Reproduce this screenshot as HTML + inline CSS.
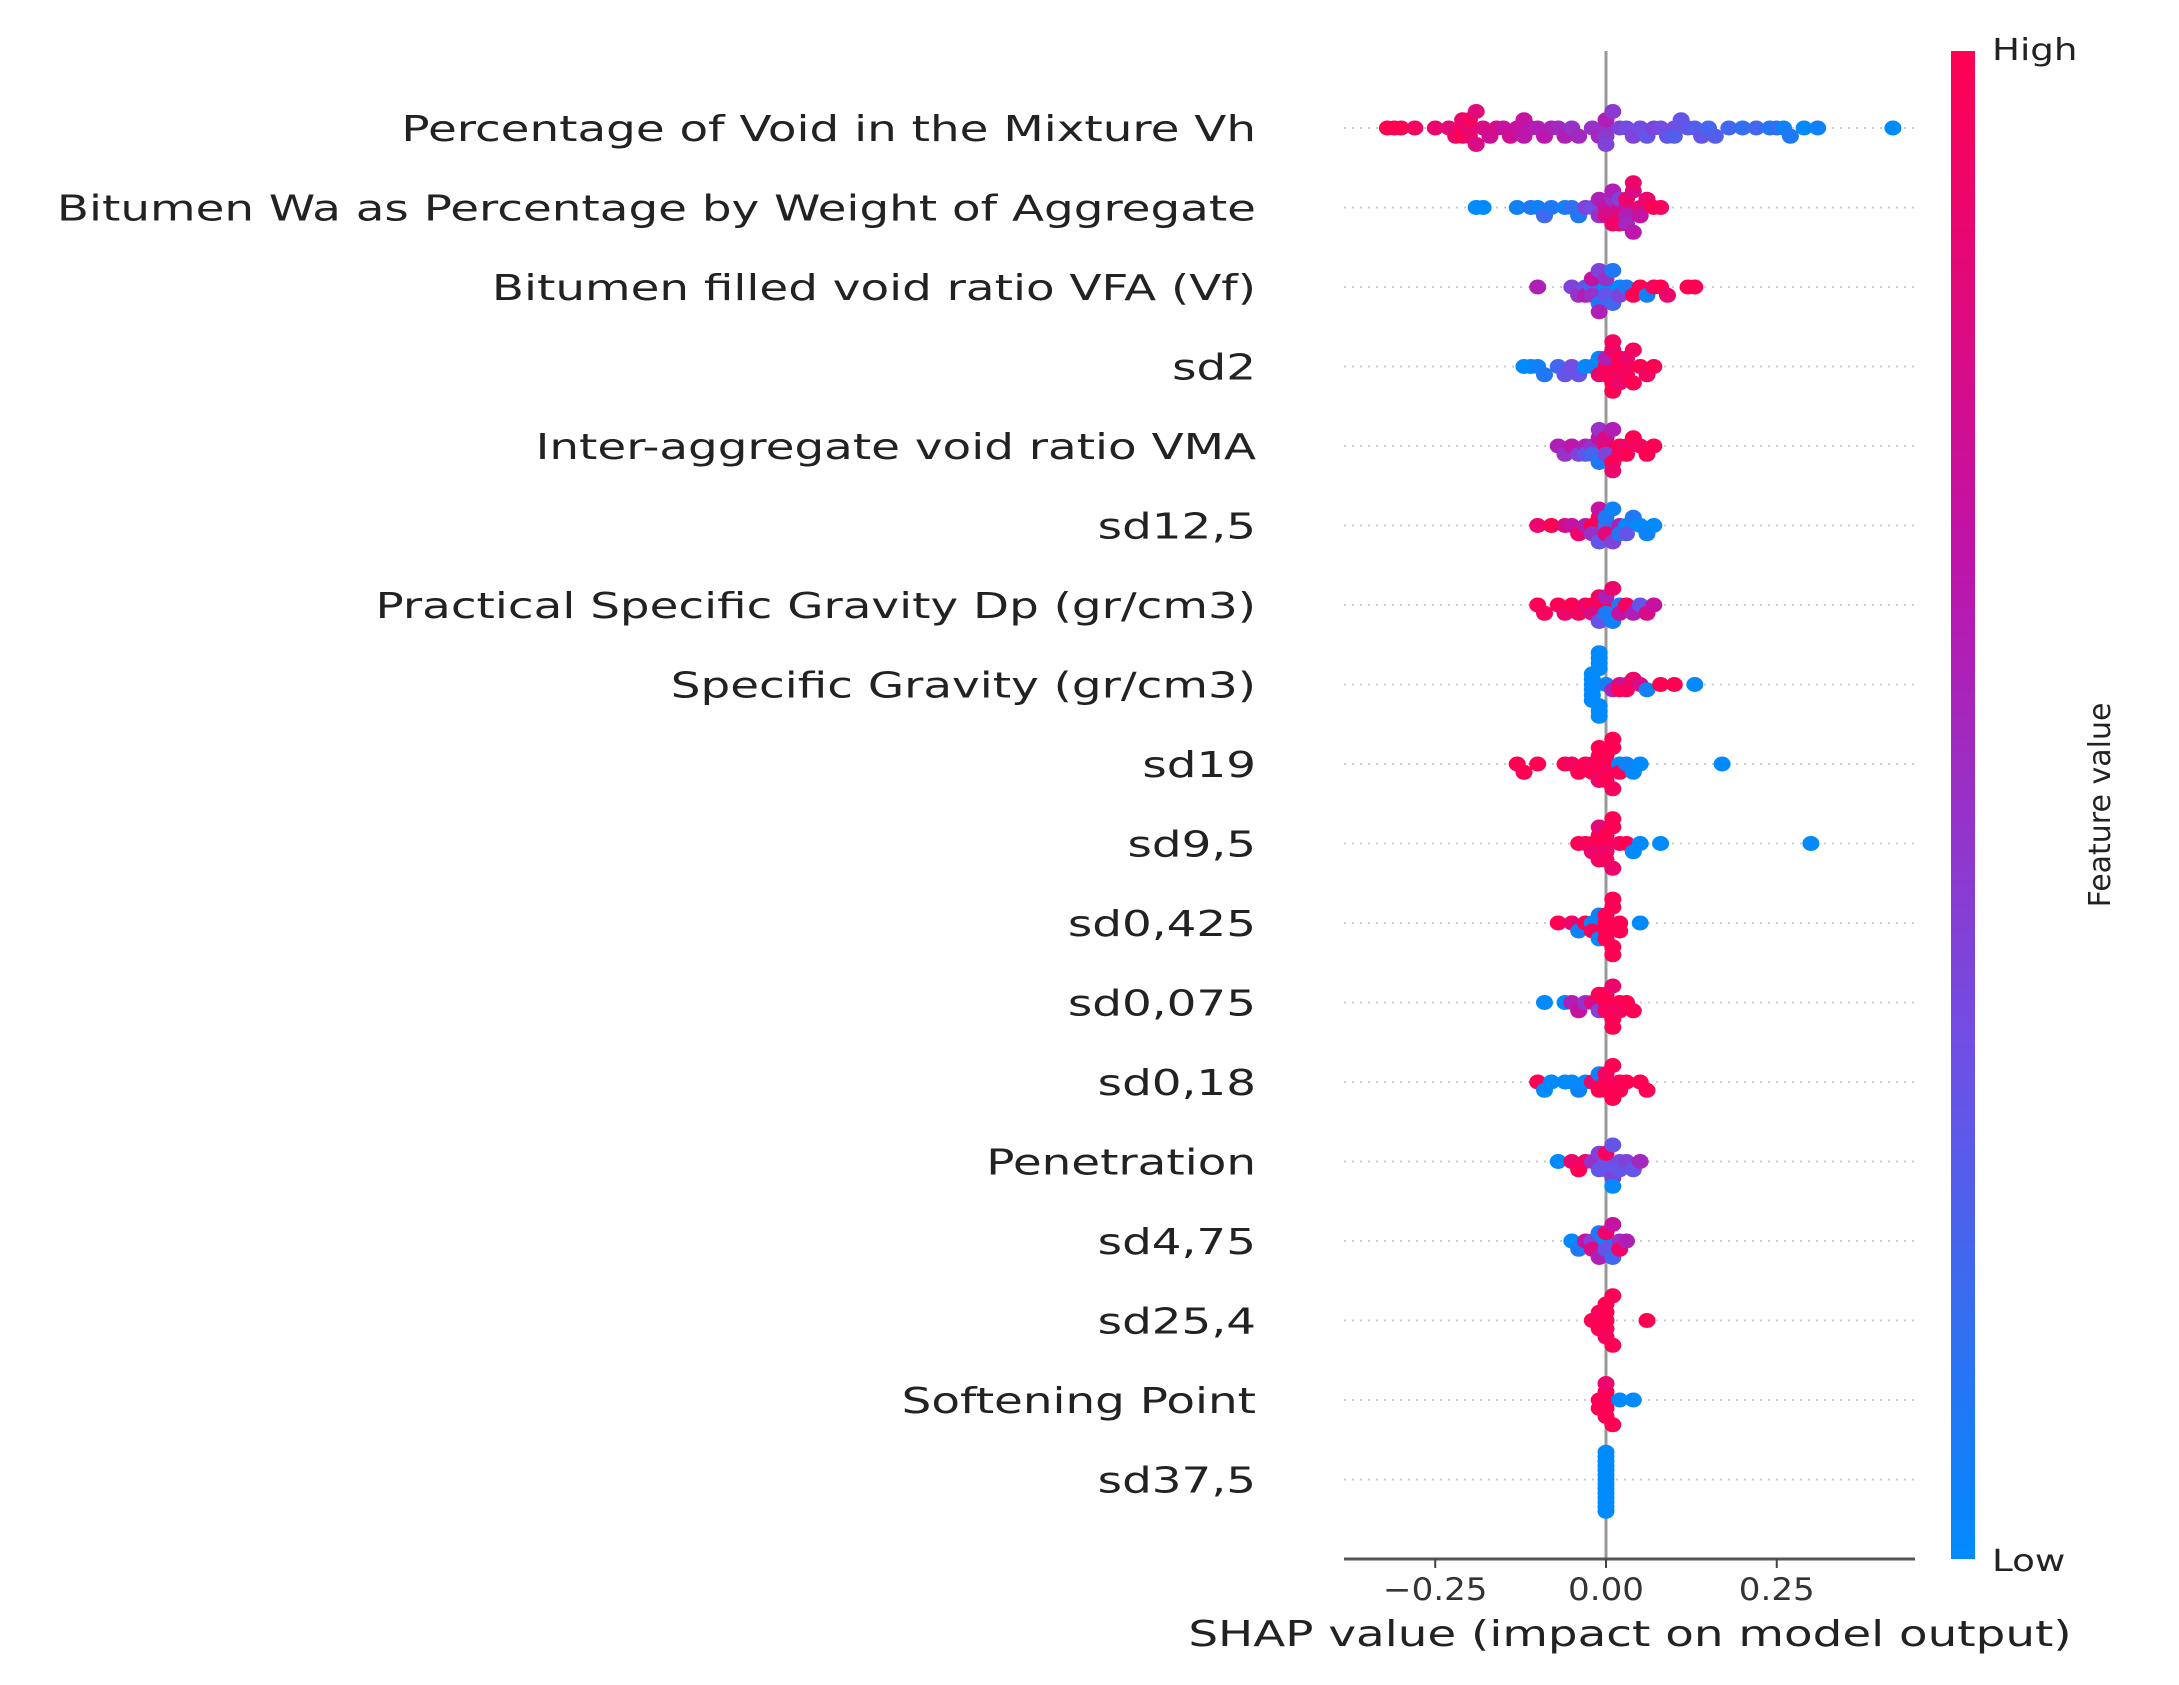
<!DOCTYPE html>
<html><head><meta charset="utf-8"><style>
html,body{margin:0;padding:0;background:#fff;}
svg{display:block;font-family:"DejaVu Sans","Liberation Sans",sans-serif;}
</style></head><body>
<svg id="chart" width="2179" height="1685" viewBox="0 0 2179 1685" xmlns="http://www.w3.org/2000/svg">
<defs><linearGradient id="cb" x1="0" y1="1" x2="0" y2="0">
<stop offset="0" stop-color="rgb(0,138,251)"/><stop offset="0.33" stop-color="rgb(110,80,230)"/><stop offset="0.66" stop-color="rgb(190,20,170)"/><stop offset="1" stop-color="rgb(255,0,82)"/></linearGradient></defs>
<g id="grid"></g>
<line x1="1606" y1="51" x2="1606" y2="1559" stroke="#999" stroke-width="3"/>
<g id="dots"></g>
<g id="labels"></g>
<line x1="1344" y1="1559" x2="1915" y2="1559" stroke="#555" stroke-width="3"/>
<g id="ticks"></g>
<text class="st" data-k="1.3" x="1630" y="1646" font-size="36" text-anchor="middle" fill="#222">SHAP value (impact on model output)</text>
<rect x="1951" y="51" width="24" height="1508" fill="url(#cb)"/>
<text class="st" data-k="1.24" x="1992" y="60" font-size="30" fill="#222">High</text>
<text class="st" data-k="1.24" x="1992" y="1571" font-size="30" fill="#222">Low</text>
<text transform="translate(2110,805) rotate(-90)" font-size="30" text-anchor="middle" fill="#222">Feature value</text>
</svg>
<script>
const features=["Percentage of Void in the Mixture Vh","Bitumen Wa as Percentage by Weight of Aggregate","Bitumen filled void ratio VFA (Vf)","sd2","Inter-aggregate void ratio VMA","sd12,5","Practical Specific Gravity Dp (gr/cm3)","Specific Gravity (gr/cm3)","sd19","sd9,5","sd0,425","sd0,075","sd0,18","Penetration","sd4,75","sd25,4","Softening Point","sd37,5"];
const tickValues=[-0.25,0,0.25];
const tickLabels=["\u22120.25","0.00","0.25"];
const shap0=[-0.32,-0.31,-0.30,-0.28,-0.25,-0.23,-0.22,-0.21,-0.21,-0.21,-0.20,-0.20,-0.20,-0.19,-0.19,-0.18,-0.17,-0.16,-0.15,-0.14,-0.13,-0.12,-0.12,-0.11,-0.10,-0.09,-0.08,-0.07,-0.06,-0.05,-0.04,-0.02,-0.01,0.00,0.00,0.00,0.00,0.01,0.02,0.03,0.04,0.05,0.06,0.07,0.08,0.09,0.10,0.10,0.11,0.12,0.13,0.14,0.15,0.16,0.18,0.20,0.22,0.24,0.25,0.26,0.27,0.29,0.31,0.42];
const fv0=[1,1,1,.95,.9,.85,.9,.95,1,.9,.85,.9,.95,.8,.85,.8,.75,.8,.7,.75,.7,.65,.7,.65,.6,.65,.6,.55,.6,.5,.55,.5,.55,.5,.45,.6,.4,.45,.4,.35,.4,.35,.3,.4,.35,.3,.35,.25,.3,.3,.25,.3,.2,.25,.2,.15,.2,.1,.15,.05,.1,0,.05,0];
const shap1=[-0.19,-0.18,-0.13,-0.11,-0.10,-0.09,-0.08,-0.06,-0.05,-0.04,-0.03,-0.02,-0.01,-0.01,0.00,0.00,0.01,0.01,0.01,0.02,0.02,0.02,0.02,0.03,0.03,0.03,0.03,0.04,0.04,0.04,0.05,0.05,0.06,0.07,0.08];
const fv1=[0,0,.05,.1,.05,.2,.1,.05,.15,.1,.4,.35,.5,.6,.7,.8,.5,.9,.6,.75,.85,.4,.95,.7,.6,.9,.55,.8,.65,.9,.85,.7,.9,1,.95];
const shap2=[-0.10,-0.05,-0.04,-0.03,-0.03,-0.02,-0.02,-0.02,-0.01,-0.01,-0.01,0.00,0.00,0.00,0.01,0.01,0.02,0.02,0.03,0.04,0.05,0.06,0.07,0.08,0.09,0.12,0.13];
const fv2=[.6,.4,.5,.3,.6,.2,.5,.7,.1,.4,.6,.0,.3,.5,.2,.1,.0,.4,.1,1,1,.05,.95,1,.9,1,1];
const shap3=[-0.12,-0.11,-0.10,-0.09,-0.07,-0.06,-0.05,-0.04,-0.03,-0.02,-0.01,-0.01,0.00,0.00,0.00,0.01,0.01,0.01,0.01,0.02,0.02,0.02,0.02,0.03,0.03,0.03,0.04,0.04,0.05,0.06,0.07];
const fv3=[0,0,.05,.1,.2,.3,.35,.3,.0,.05,.9,.0,1,.95,.6,1,.9,1,.95,1,.95,1,.9,1,.95,.9,1,.95,1,.95,1];
const shap4=[-0.07,-0.06,-0.05,-0.04,-0.03,-0.03,-0.02,-0.02,-0.01,-0.01,-0.01,0.00,0.00,0.00,0.01,0.01,0.01,0.02,0.02,0.03,0.03,0.04,0.05,0.06,0.07];
const fv4=[.6,.5,.65,.4,.6,.3,.5,.2,.7,.1,.5,.9,.4,.8,1,.6,.9,1,.95,.9,1,1,.95,1,1];
const shap5=[-0.10,-0.08,-0.06,-0.05,-0.04,-0.03,-0.02,-0.02,-0.01,-0.01,-0.01,0.00,0.00,0.00,0.01,0.01,0.02,0.02,0.03,0.03,0.04,0.05,0.06,0.07];
const fv5=[.9,1,.8,.7,.9,.6,1,.5,.95,.3,.7,.2,.85,.1,.4,.05,.6,.1,.0,.3,.1,.0,.05,0];
const shap6=[-0.10,-0.09,-0.07,-0.06,-0.05,-0.04,-0.03,-0.02,-0.02,-0.01,-0.01,0.00,0.00,0.00,0.01,0.01,0.02,0.02,0.03,0.04,0.05,0.06,0.07];
const fv6=[1,.95,1,.9,1,.95,.9,1,.8,.95,.3,1,.1,.6,.05,.9,.1,.7,.95,.6,.3,.8,.7];
const shap7=[-0.02,-0.02,-0.02,-0.02,-0.02,-0.02,-0.01,-0.01,-0.01,-0.01,-0.01,-0.01,-0.01,0.00,0.01,0.02,0.02,0.03,0.03,0.04,0.05,0.06,0.08,0.10,0.13];
const fv7=[0,0,0,0,0,0,0,0,0,0,0,0,0,.05,.6,.8,1,.7,.95,.9,.8,.05,1,1,0];
const shap8=[-0.13,-0.12,-0.10,-0.06,-0.05,-0.04,-0.03,-0.02,-0.02,-0.01,-0.01,-0.01,0.00,0.00,0.00,0.00,0.01,0.01,0.01,0.02,0.02,0.03,0.04,0.05,0.17];
const fv8=[1,1,1,1,.95,1,1,.95,1,1,.9,1,1,.95,1,1,1,.95,1,0,1,.05,0,0,0];
const shap9=[-0.04,-0.03,-0.02,-0.02,-0.01,-0.01,-0.01,0.00,0.00,0.00,0.00,0.01,0.01,0.01,0.02,0.03,0.04,0.05,0.08,0.30];
const fv9=[1,.95,1,.9,1,.95,.85,1,.9,1,.95,1,.9,1,.95,1,0,0,0,0];
const shap10=[-0.07,-0.05,-0.04,-0.03,-0.02,-0.02,-0.01,-0.01,0.00,0.00,0.00,0.00,0.01,0.01,0.01,0.01,0.02,0.02,0.05];
const fv10=[1,.9,.05,1,0,.95,.05,0,1,1,1,1,1,1,1,1,1,1,0];
const shap11=[-0.09,-0.06,-0.05,-0.04,-0.03,-0.02,-0.01,-0.01,0.00,0.00,0.00,0.01,0.01,0.01,0.02,0.02,0.03,0.04];
const fv11=[0,0,.6,.7,.5,.8,.4,1,1,.95,1,1,.9,1,1,.95,1,1];
const shap12=[-0.10,-0.09,-0.08,-0.06,-0.05,-0.04,-0.03,-0.02,-0.01,-0.01,0.00,0.00,0.00,0.01,0.01,0.02,0.02,0.03,0.05,0.06];
const fv12=[1,0,0,0,0,.05,0,.9,1,.05,1,1,.95,1,1,.95,1,1,1,1];
const shap13=[-0.07,-0.05,-0.04,-0.03,-0.02,-0.01,-0.01,0.00,0.00,0.00,0.01,0.01,0.01,0.02,0.02,0.03,0.04,0.05];
const fv13=[0,.9,1,.95,.5,.3,.4,.35,.3,.95,.4,.3,0,.35,.3,.4,.3,.55];
const shap14=[-0.05,-0.04,-0.03,-0.02,-0.02,-0.01,-0.01,0.00,0.00,0.00,0.01,0.01,0.02,0.02,0.03];
const fv14=[0,.1,.7,.4,.8,.1,.6,0,.3,.9,.2,.7,.5,.9,.6];
const shap15=[-0.02,-0.01,-0.01,0.00,0.00,0.00,0.00,0.00,0.01,0.01,0.06];
const fv15=[1,1,.95,1,1,1,.95,1,1,1,1];
const shap16=[-0.01,-0.01,0.00,0.00,0.00,0.00,0.00,0.01,0.02,0.04];
const fv16=[1,1,.95,1,1,1,.9,1,0,0];
const shap17=[0,0,0,0,0,0,0,0,0,0,0,0,0,0];
const fv17=[0,0,0,0,0,0,0,0,0,0,0,0,0,0];
const shapValues=[shap0,shap1,shap2,shap3,shap4,shap5,shap6,shap7,shap8,shap9,shap10,shap11,shap12,shap13,shap14,shap15,shap16,shap17];
const featureValues=[fv0,fv1,fv2,fv3,fv4,fv5,fv6,fv7,fv8,fv9,fv10,fv11,fv12,fv13,fv14,fv15,fv16,fv17];

const NS="http://www.w3.org/2000/svg";
const X0=1606, PXU=683, ROW0=128, ROWH=79.5, R=7.5;
function xs(v){return X0+v*PXU;}
function ys(i){return ROW0+i*ROWH;}
const stops=[[0,[0,138,251]],[.33,[110,80,230]],[.66,[190,20,170]],[1,[255,0,82]]];
function col(f){for(let k=1;k<stops.length;k++){if(f<=stops[k][0]){const a=stops[k-1],b=stops[k];const t=(f-a[0])/(b[0]-a[0]);const c=a[1].map((v,j)=>Math.round(v+(b[1][j]-v)*t));return `rgb(${c[0]},${c[1]},${c[2]})`;}}return "rgb(255,0,82)";}
const grid=document.getElementById('grid'),dots=document.getElementById('dots'),labels=document.getElementById('labels'),ticks=document.getElementById('ticks');
features.forEach((name,i)=>{
  const y=ys(i);
  const gl=document.createElementNS(NS,'line');
  
  
  gl.setAttribute('x1',1344);gl.setAttribute('x2',1915);gl.setAttribute('y1',y);gl.setAttribute('y2',y);
  gl.setAttribute('stroke','#ccc');gl.setAttribute('stroke-width','2');gl.setAttribute('stroke-dasharray','2 6');
  grid.appendChild(gl);
  const t=document.createElementNS(NS,'text');
  
  
  t.setAttribute('class','st');t.setAttribute('data-k','1.3');
  t.setAttribute('x',1256);t.setAttribute('y',y+13);t.setAttribute('text-anchor','end');t.setAttribute('font-size','36');t.setAttribute('fill','#222');
  t.textContent=name;labels.appendChild(t);
  const sv=shapValues[i],fv=featureValues[i];
  const bins={};
  const counts=sv.reduce((m,v)=>{const b=Math.round(xs(v)/(R*1.5));m[b]=(m[b]||0)+1;return m;},{});
  const maxPerBin=Math.max(...Object.values(counts));
  const step=Math.min(R*1.1,(ROWH*0.4)/Math.max(1,Math.ceil((maxPerBin-1)/2)));
  sv.forEach((v,j)=>{
    const cx=xs(v);const b=Math.round(cx/(R*1.5));const k=bins[b]||0;bins[b]=k+1;
    const off=(k%2?1:-1)*Math.ceil(k/2)*step;
    const c=document.createElementNS(NS,'ellipse');
    
    
    c.setAttribute('cx',cx.toFixed(1));c.setAttribute('cy',(y+off).toFixed(1));c.setAttribute('rx',R+1);c.setAttribute('ry',R);
    c.setAttribute('fill',col(fv[j]));
    dots.appendChild(c);
  });
});
tickValues.forEach((v,k)=>{
  const x=xs(v);
  const tl=document.createElementNS(NS,'line');
  
  
  tl.setAttribute('x1',x);tl.setAttribute('x2',x);tl.setAttribute('y1',1559);tl.setAttribute('y2',1568);tl.setAttribute('stroke','#444');tl.setAttribute('stroke-width','2');
  ticks.appendChild(tl);
  const tt=document.createElementNS(NS,'text');
  
  
  tt.setAttribute('class','st');tt.setAttribute('data-k','1.1');
  tt.setAttribute('x',x);tt.setAttribute('y',1600);tt.setAttribute('text-anchor','middle');tt.setAttribute('font-size','31');tt.setAttribute('fill','#333');
  tt.textContent=tickLabels[k];ticks.appendChild(tt);
});
document.querySelectorAll('text.st').forEach(t=>{
  const k=parseFloat(t.getAttribute('data-k'));
  const w=t.getComputedTextLength();
  t.setAttribute('textLength',(w*k).toFixed(1));
  t.setAttribute('lengthAdjust','spacingAndGlyphs');
});
</script>
</body></html>
